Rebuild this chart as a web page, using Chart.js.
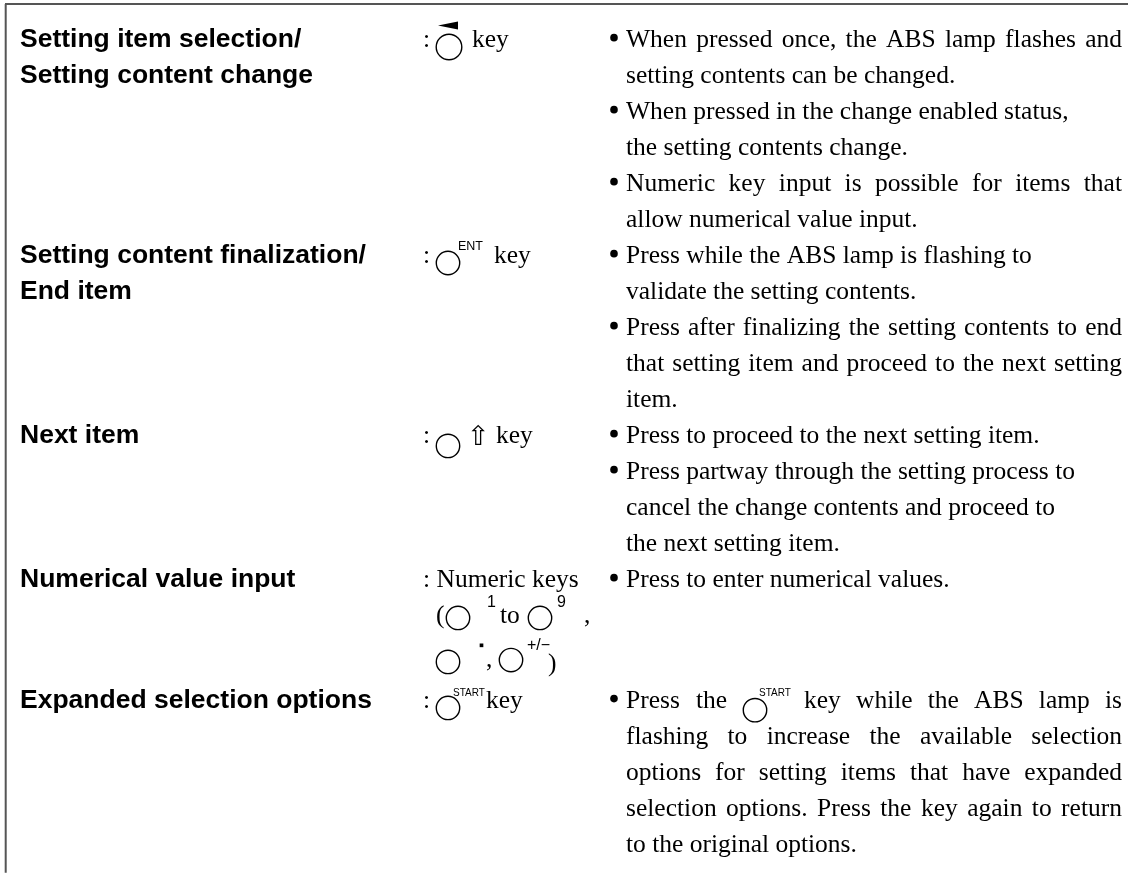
<!DOCTYPE html>
<html>
<head>
<meta charset="utf-8">
<title>Setting keys</title>
<script src="https://cdn.jsdelivr.net/npm/chart.js@4"></script>
<style>
  html, body { margin: 0; padding: 0; background: #fff; }
  canvas { display: block; }
</style>
</head>
<body>
<canvas id="keysChart" width="1128" height="874"></canvas>
<script>
// row numbers are text lines, the y axis turns them into pixels
var itemLabels = [
  "Setting item selection/", "Setting content change",
  "Setting content finalization/", "End item",
  "Next item", "Numerical value input", "Expanded selection options"
];
var itemRows = [0, 1, 6, 7, 11, 15, 18.36];

var keyTexts = [":", "key", ":", "key", ":", "key", ": Numeric keys", "(", "to", ",", ",", ")", ":", "key", "⇧"];
var keyRows = [0, 0, 6, 6, 11, 11, 15, 16, 16, 16, 17.22, 17.33, 18.36, 18.36, 11.05];
var keyColumns = [423, 472, 423, 494, 423, 496, 423, 436, 500, 584, 486, 548, 423, 486, 467];

var smallTexts = ["ENT", "1", "9", "+/−", "START", "START"];
var smallRows = [5.64, 15.56, 15.56, 16.75, 18.03, 18.03];
var smallColumns = [458, 487, 557, 527, 453, 759];
var smallSizes = [12.5, 16, 16, 16, 10, 10];

var bodyLines = [
  "When pressed once, the ABS lamp flashes and",
  "setting contents can be changed.",
  "When pressed in the change enabled status,",
  "the setting contents change.",
  "Numeric key input is possible for items that",
  "allow numerical value input.",
  "Press while the ABS lamp is flashing to",
  "validate the setting contents.",
  "Press after finalizing the setting contents to end",
  "that setting item and proceed to the next setting",
  "item.",
  "Press to proceed to the next setting item.",
  "Press partway through the setting process to",
  "cancel the change contents and proceed to",
  "the next setting item.",
  "Press to enter numerical values.",
  "flashing to increase the available selection",
  "options for setting items that have expanded",
  "selection options. Press the key again to return",
  "to the original options."
];
var bodyRows = [0, 1, 2, 3, 4, 5, 6, 7, 8, 9, 10, 11, 12, 13, 14, 15, 19.36, 20.36, 21.36, 22.36];
var bodyJustified = [true, false, false, false, true, false, false, false, true, true, false, false, false, false, false, false, true, true, true, false];

var bulletRows = [0, 2, 4, 6, 8, 11, 12, 15, 18.36];

var keyCircleX = [449, 448, 448, 458, 540, 448, 511, 448, 755];
var keyCircleRows = [0, 6, 11.08, 15.86, 15.86, 17.08, 17.03, 18.36, 18.42];

var item_x = 20, body_x = 626, right_x = 1122;

function rowY(chart, row) {
  return chart.scales.y.getPixelForValue(row);
}

// draws all the lettering once the marks are on the canvas
var textPlugin = {
  id: 'textPlugin',
  afterDatasetsDraw: function (chart) {
    var ctx = chart.ctx;
    ctx.save();
    ctx.fillStyle = '#000';
    ctx.textBaseline = 'alphabetic';

    ctx.font = 'bold 26.5px "Liberation Sans"';
    itemLabels.forEach(function (label, i) {
      ctx.fillText(label, item_x, rowY(chart, itemRows[i]));
    });

    keyTexts.forEach(function (text, i) {
      ctx.font = text == "⇧" ? '27px "DejaVu Sans"' : '25.5px "Liberation Serif"';
      ctx.fillText(text, keyColumns[i], rowY(chart, keyRows[i]));
    });

    smallTexts.forEach(function (text, i) {
      ctx.font = smallSizes[i] + 'px "Liberation Sans"';
      ctx.fillText(text, smallColumns[i], rowY(chart, smallRows[i]));
    });

    ctx.font = '25.5px "Liberation Serif"';
    bodyLines.forEach(function (line, i) {
      var y = rowY(chart, bodyRows[i]);
      if (!bodyJustified[i]) {
        ctx.fillText(line, body_x, y);
        return;
      }
      var words = line.split(' ');
      var used = words.reduce(function (sum, w) { return sum + ctx.measureText(w).width; }, 0);
      var gap = (right_x - body_x - used) / (words.length - 1);
      var x = body_x;
      words.forEach(function (w) {
        ctx.fillText(w, x, y);
        x += ctx.measureText(w).width + gap;
      });
    });

    // this line has the key symbol inside it, so it goes in three pieces
    var y = rowY(chart, 18.36);
    ctx.fillText("Press", body_x, y);
    ctx.fillText("the", 696, y);
    var tail = "key while the ABS lamp is".split(' ');
    var tailUsed = tail.reduce(function (sum, w) { return sum + ctx.measureText(w).width; }, 0);
    var tailGap = (right_x - 804 - tailUsed) / (tail.length - 1);
    var tx = 804;
    tail.forEach(function (w) {
      ctx.fillText(w, tx, y);
      tx += ctx.measureText(w).width + tailGap;
    });

    // wedge above the first key
    ctx.beginPath();
    ctx.moveTo(438, 25.5);
    ctx.lineTo(458, 21.5);
    ctx.lineTo(458, 29.5);
    ctx.closePath();
    ctx.fill();
    ctx.restore();
  }
};

var keysChart = new Chart(document.getElementById('keysChart').getContext('2d'), {
  type: 'scatter',
  data: {
    datasets: [
      {
        data: [{ x: 5, y: -1.194 }, { x: 1128, y: -1.194 }],
        showLine: true, borderColor: '#555', borderWidth: 2, pointRadius: 0
      },
      {
        data: [{ x: 5.7, y: -1.194 }, { x: 5.7, y: 22.94 }],
        showLine: true, borderColor: '#555', borderWidth: 2, pointRadius: 0
      },
      {
        data: keyCircleX.map(function (x, i) { return { x: x, y: keyCircleRows[i] }; }),
        pointRadius: keyCircleX.map(function (x, i) { return i == 0 ? 12.8 : 11.7; }),
        pointBackgroundColor: '#fff', pointBorderColor: '#000', pointBorderWidth: 1.4
      },
      {
        data: bulletRows.map(function (r) { return { x: 614, y: r - 0.26 }; }),
        pointRadius: 3.8, pointBackgroundColor: '#000', pointBorderColor: '#000', pointBorderWidth: 0
      },
      {
        // the decimal point key
        data: [{ x: 481.5, y: 16.62 }],
        pointStyle: 'rect', pointRadius: 2.6, pointBackgroundColor: '#000', pointBorderWidth: 0
      }
    ]
  },
  options: {
    responsive: false,
    animation: false,
    layout: { padding: 0, autoPadding: false },
    plugins: { legend: { display: false }, tooltip: { enabled: false }, title: { display: false } },
    scales: {
      x: { type: 'linear', display: false, min: 0, max: 1128 },
      y: { type: 'linear', display: false, reverse: true, min: -1.3056, max: 22.972 }
    }
  },
  plugins: [textPlugin]
});
</script>
</body>
</html>
